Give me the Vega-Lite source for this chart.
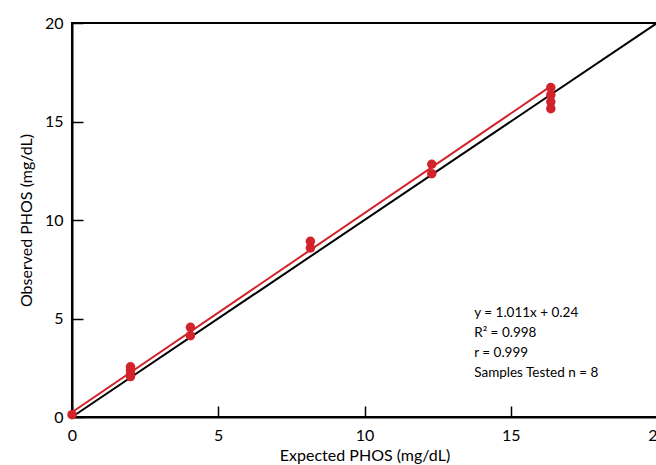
{
  "$schema": "https://vega.github.io/schema/vega-lite/v6.json",
  "width": 585,
  "height": 394,
  "autosize": {"type": "none"},
  "padding": {"left": 72, "top": 23, "right": 0, "bottom": 48},
  "config": {
    "view": {"stroke": "black", "strokeWidth": 2},
    "font": "Lato",
    "axis": {
      "grid": false,
      "domainColor": "black",
      "domainWidth": 2,
      "tickColor": "black",
      "tickWidth": 1.5,
      "tickSize": -11,
      "labelFlush": false,
      "labelColor": "black",
      "labelFontSize": 16,
      "labelFont": "Lato",
      "titleFont": "Lato",
      "titleFontSize": 16,
      "titleFontWeight": "normal",
      "titleColor": "black"
    }
  },
  "datasets": {
    "identity": [{"x": 0, "y": 0}, {"x": 20, "y": 20}],
    "fit": [{"x": 0, "y": 0.24}, {"x": 16.4, "y": 16.82}],
    "points": [
      {"x": 0, "y": 0.12},
      {"x": 2.0, "y": 2.05},
      {"x": 2.0, "y": 2.2},
      {"x": 2.0, "y": 2.38},
      {"x": 2.0, "y": 2.55},
      {"x": 4.05, "y": 4.13},
      {"x": 4.05, "y": 4.55},
      {"x": 8.15, "y": 8.58},
      {"x": 8.15, "y": 8.92},
      {"x": 12.3, "y": 12.35},
      {"x": 12.3, "y": 12.83},
      {"x": 16.37, "y": 15.65},
      {"x": 16.37, "y": 16.0},
      {"x": 16.37, "y": 16.35},
      {"x": 16.37, "y": 16.72}
    ]
  },
  "layer": [
    {
      "data": {"name": "identity"},
      "mark": {"type": "line", "color": "black", "strokeWidth": 2},
      "encoding": {
        "x": {"field": "x", "type": "quantitative", "scale": {"domain": [0, 20], "nice": false},
              "axis": {"title": "Expected PHOS (mg/dL)", "values": [0, 5, 10, 15, 20], "labelPadding": 21, "titlePadding": 4}},
        "y": {"field": "y", "type": "quantitative", "scale": {"domain": [0, 20], "nice": false},
              "axis": {"title": "Observed PHOS (mg/dL)", "values": [0, 5, 10, 15, 20], "labelPadding": 20, "titlePadding": 10}}
      }
    },
    {
      "data": {"name": "fit"},
      "mark": {"type": "line", "color": "#d2232a", "strokeWidth": 2},
      "encoding": {
        "x": {"field": "x", "type": "quantitative"},
        "y": {"field": "y", "type": "quantitative"}
      }
    },
    {
      "data": {"name": "points"},
      "mark": {"type": "circle", "color": "#d2232a", "opacity": 1, "size": 90},
      "encoding": {
        "x": {"field": "x", "type": "quantitative"},
        "y": {"field": "y", "type": "quantitative"}
      }
    },
    {
      "data": {"values": [{}]},
      "mark": {"type": "text", "align": "left", "baseline": "middle", "fontSize": 13.5, "lineHeight": 20, "color": "black", "font": "Lato",
               "text": ["y = 1.011x + 0.24", "R² = 0.998", "r = 0.999", "Samples Tested n = 8"]},
      "encoding": {
        "x": {"datum": 13.75},
        "y": {"datum": 5.28}
      }
    }
  ]
}
